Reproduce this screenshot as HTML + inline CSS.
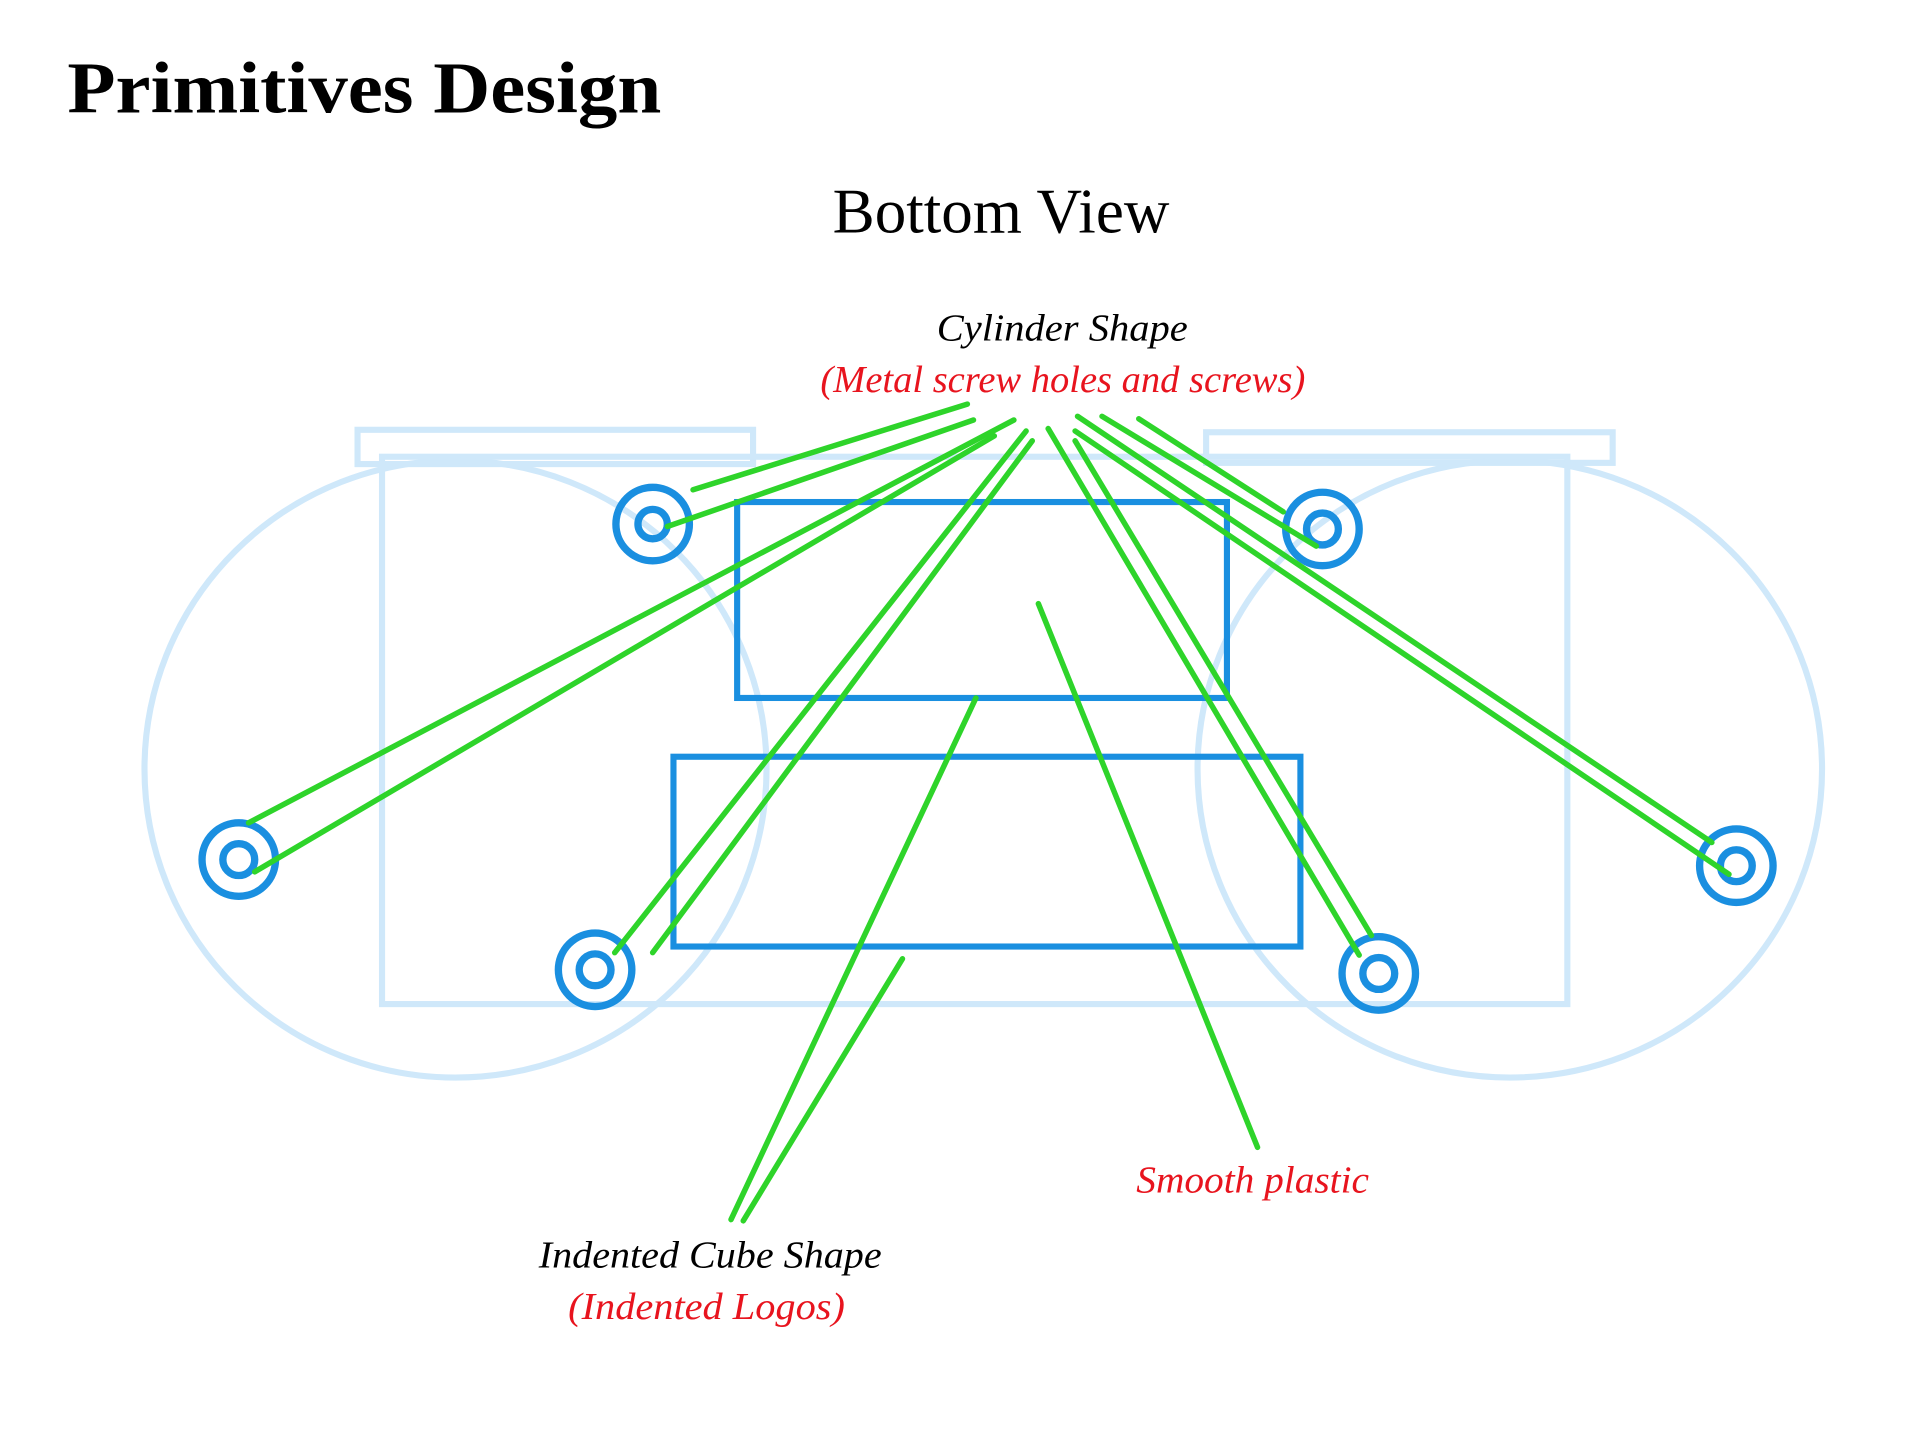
<!DOCTYPE html>
<html><head><meta charset="utf-8"><style>
html,body{margin:0;padding:0;background:#fff;width:1920px;height:1440px;overflow:hidden}
svg{display:block}
text{font-family:"Liberation Serif",serif}
</style></head><body>
<svg width="1920" height="1440" viewBox="0 0 1568 1176" preserveAspectRatio="none" xmlns="http://www.w3.org/2000/svg">
<text x="55" y="92" font-size="60" font-weight="bold" textLength="485" lengthAdjust="spacingAndGlyphs">Primitives Design</text>
<text x="680" y="190" font-size="52" textLength="275" lengthAdjust="spacingAndGlyphs">Bottom View</text>
<text x="765" y="278" font-size="31" font-style="italic" textLength="205" lengthAdjust="spacingAndGlyphs">Cylinder Shape</text>
<text x="670" y="320" font-size="31" font-style="italic" fill="#e8141e" textLength="396" lengthAdjust="spacingAndGlyphs">(Metal screw holes and screws)</text>
<text x="928" y="974" font-size="31" font-style="italic" fill="#e8141e" textLength="190" lengthAdjust="spacingAndGlyphs">Smooth plastic</text>
<text x="440" y="1035" font-size="31" font-style="italic" textLength="280" lengthAdjust="spacingAndGlyphs">Indented Cube Shape</text>
<text x="464" y="1077" font-size="31" font-style="italic" fill="#e8141e" textLength="226" lengthAdjust="spacingAndGlyphs">(Indented Logos)</text>

<g fill="none" stroke="#cfe8fa" stroke-width="5">
<rect x="292" y="351" width="323" height="28"/>
<rect x="985" y="353" width="332" height="25"/>
<rect x="312" y="373" width="968" height="447"/>
<ellipse cx="372" cy="628" rx="254" ry="252"/>
<ellipse cx="1233" cy="628" rx="255" ry="252"/>
</g>
<g fill="none" stroke="#1a8fe0" stroke-width="5">
<rect x="602" y="410" width="400" height="160"/>
<rect x="550" y="618" width="512" height="155"/>
<g stroke-width="6">
<circle cx="533" cy="428" r="30"/><circle cx="533" cy="428" r="12"/>
<circle cx="195" cy="702" r="30"/><circle cx="195" cy="702" r="13"/>
<circle cx="1080" cy="432" r="30"/><circle cx="1080" cy="432" r="13"/>
<circle cx="1418" cy="707" r="30"/><circle cx="1418" cy="707" r="13"/>
<circle cx="486" cy="792" r="30"/><circle cx="486" cy="792" r="13"/>
<circle cx="1126" cy="795" r="30"/><circle cx="1126" cy="795" r="13"/>
</g>
</g>
<g stroke="#2ed42a" stroke-width="4.5" stroke-linecap="round">
<line x1="790" y1="330" x2="566" y2="400"/>
<line x1="795" y1="343" x2="545" y2="430"/>
<line x1="828" y1="343" x2="203" y2="672"/>
<line x1="812" y1="356" x2="208" y2="712"/>
<line x1="838" y1="352" x2="502" y2="778"/>
<line x1="843" y1="360" x2="533" y2="778"/>
<line x1="930" y1="342" x2="1048" y2="418"/>
<line x1="900" y1="340" x2="1075" y2="446"/>
<line x1="880" y1="340" x2="1398" y2="688"/>
<line x1="878" y1="352" x2="1412" y2="714"/>
<line x1="856" y1="350" x2="1110" y2="780"/>
<line x1="878" y1="360" x2="1120" y2="764"/>
<line x1="797" y1="570" x2="597" y2="996"/>
<line x1="737" y1="783" x2="607" y2="997"/>
<line x1="848" y1="493" x2="1027" y2="937"/>
</g>
</svg>
</body></html>
